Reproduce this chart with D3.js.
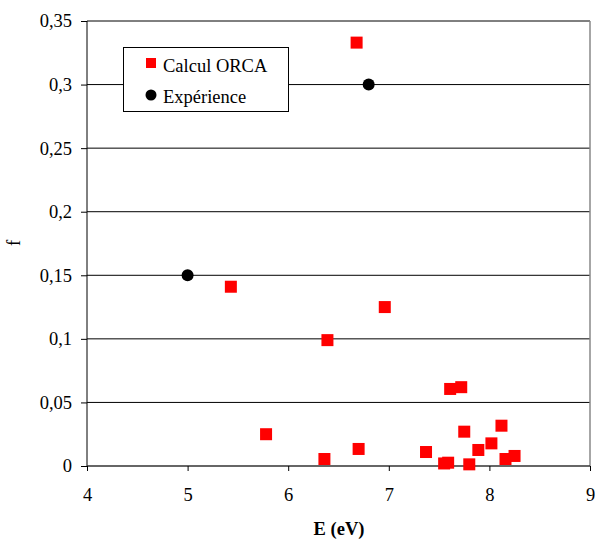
<!DOCTYPE html>
<html>
<head>
<meta charset="utf-8">
<script src="https://cdn.jsdelivr.net/npm/d3@7"></script>
<style>
  html, body { margin: 0; padding: 0; background: #fff; }
  svg { display: block; }
  text { font-family: "Liberation Serif", "Times New Roman", serif; fill: #000; }
</style>
</head>
<body>
<div id="chart"></div>
<script>
// ---- Data ----
const orcaE = [6.68, 5.43, 6.39, 6.96, 5.78, 6.36, 6.70, 7.37, 7.55, 7.59, 7.61, 7.72, 7.75, 7.80, 7.89, 8.02, 8.12, 8.16, 8.25];
const orcaF = [0.333, 0.141, 0.099, 0.125, 0.025, 0.0055, 0.0134, 0.011, 0.002, 0.0026, 0.0606, 0.062, 0.027, 0.0013, 0.0126, 0.0178, 0.0317, 0.0055, 0.0079];
const expE = [5.0, 6.80];
const expF = [0.15, 0.30];
const xTicks = [4, 5, 6, 7, 8, 9];
const yTicks = [0, 0.05, 0.1, 0.15, 0.2, 0.25, 0.3, 0.35];
const seriesNames = ["Calcul ORCA", "Expérience"];
const xTitle = "E (eV)";
const yTitle = "f";

// ---- Layout ----
const W = 595, H = 540;
const mLeft = 87, mRight = 590, mTop = 21, mBottom = 466;
const fontSize = 18.5;

const svg = d3.select("#chart").append("svg").attr("width", W).attr("height", H);

const x = d3.scaleLinear().domain([4, 9]).range([mLeft, mRight]);
const y = d3.scaleLinear().domain([0, 0.35]).range([mBottom, mTop]);

const fmtY = d => d === 0 ? "0" : String(+d.toFixed(2)).replace(".", ",");

// gridlines
svg.append("g").selectAll("line").data(yTicks.filter(d => d > 0)).join("line")
  .attr("x1", mLeft).attr("x2", mRight)
  .attr("y1", d => y(d)).attr("y2", d => y(d))
  .attr("stroke", "#000").attr("stroke-width", 1);

// right border
svg.append("line").attr("x1", mRight).attr("x2", mRight).attr("y1", mTop).attr("y2", mBottom)
  .attr("stroke", "#888").attr("stroke-width", 1.5);

// Y axis
const yAxis = d3.axisLeft(y).tickValues(yTicks).tickFormat(fmtY).tickSize(6).tickPadding(9);
const gy = svg.append("g").attr("transform", `translate(${mLeft},0)`).call(yAxis);
gy.select(".domain").attr("stroke", "#000").attr("d", `M0,${mTop}V${mBottom}`);
gy.selectAll(".tick line").attr("stroke", "#000");
gy.selectAll("text").attr("font-size", fontSize).attr("font-family", "Liberation Serif").attr("fill", "#000");

// X axis
const xAxis = d3.axisBottom(x).tickValues(xTicks).tickFormat(d3.format("d")).tickSize(5).tickPadding(17);
const gx = svg.append("g").attr("transform", `translate(0,${mBottom})`).call(xAxis);
gx.select(".domain").attr("stroke", "#333").attr("stroke-width", 1.5).attr("d", `M${mLeft},0H${mRight}`);
gx.selectAll(".tick line").attr("stroke", "#000");
gx.selectAll("text").attr("font-size", fontSize).attr("font-family", "Liberation Serif").attr("fill", "#000");

// axis titles
svg.append("text").attr("x", 339).attr("y", 535).attr("text-anchor", "middle")
  .attr("font-size", fontSize).attr("font-weight", "bold").text(xTitle);
svg.append("text").attr("transform", "translate(20,243) rotate(-90)").attr("text-anchor", "middle")
  .attr("font-size", fontSize).text(yTitle);

// ORCA squares
const orca = orcaE.map((e, i) => ({ e, f: orcaF[i] }));
const sq = 12;
svg.append("g").selectAll("rect").data(orca).join("rect")
  .attr("x", d => x(d.e) - sq / 2).attr("y", d => y(d.f) - sq / 2)
  .attr("width", sq).attr("height", sq).attr("fill", "#ff0000");

// Experiment circles
const exp = expE.map((e, i) => ({ e, f: expF[i] }));
svg.append("g").selectAll("circle").data(exp).join("circle")
  .attr("cx", d => x(d.e)).attr("cy", d => y(d.f)).attr("r", 6).attr("fill", "#000");

// Legend
const lg = svg.append("g");
lg.append("rect").attr("x", 123.5).attr("y", 47.5).attr("width", 165).attr("height", 64)
  .attr("fill", "#fff").attr("stroke", "#000").attr("stroke-width", 1);
lg.append("rect").attr("x", 146).attr("y", 58).attr("width", 10).attr("height", 10).attr("fill", "#ff0000");
lg.append("text").attr("x", 163).attr("y", 71.5).attr("font-size", fontSize).text(seriesNames[0]);
lg.append("circle").attr("cx", 151).attr("cy", 95).attr("r", 5.5).attr("fill", "#000");
lg.append("text").attr("x", 163).attr("y", 102.5).attr("font-size", fontSize).text(seriesNames[1]);
</script>
</body>
</html>
